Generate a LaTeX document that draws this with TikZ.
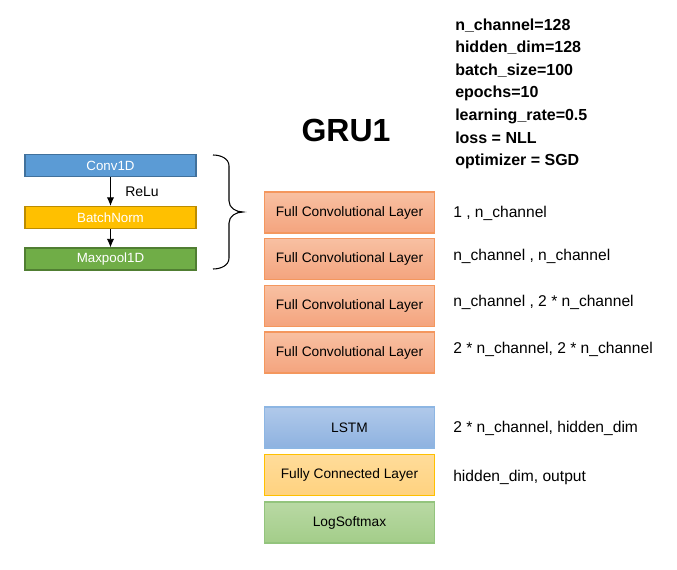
\documentclass[tikz,border=0pt]{standalone}
\usepackage{fontspec}
\setmainfont{Liberation Sans}
\usetikzlibrary{arrows.meta}
\definecolor{cblue}{HTML}{5B9BD5}
\definecolor{cblueb}{HTML}{41719C}
\definecolor{cyel}{HTML}{FFC000}
\definecolor{cyelb}{HTML}{BC8C00}
\definecolor{cgrn}{HTML}{70AD47}
\definecolor{cgrnb}{HTML}{507E32}
\definecolor{ortop}{HTML}{F8C0A2}
\definecolor{orbot}{HTML}{F4A47E}
\definecolor{orb}{HTML}{F4975E}
\definecolor{bltop}{HTML}{B0C9EA}
\definecolor{blbot}{HTML}{8EB2E0}
\definecolor{blb}{HTML}{8DB6E3}
\definecolor{yltop}{HTML}{FFDC9A}
\definecolor{ylbot}{HTML}{FFD27F}
\definecolor{ylb}{HTML}{FFC000}
\definecolor{grtop}{HTML}{B9D9A4}
\definecolor{grbot}{HTML}{A3CD89}
\definecolor{grb}{HTML}{93C47D}
\tikzset{
  smallbox/.style={draw, line width=0.8pt, minimum width=171*0.75pt, minimum height=22*0.75pt,
    inner sep=0pt, text=white, font=\fontsize{10}{12}\selectfont},
  bigbox/.style={draw, line width=0.8pt, minimum width=170*0.75pt, minimum height=41*0.75pt,
    inner sep=0pt, font=\fontsize{10.3}{12}\selectfont},
  convbox/.style={bigbox, top color=ortop, bottom color=orbot, draw=orb},
  lstmbox/.style={bigbox, top color=bltop, bottom color=blbot, draw=blb},
  fcbox/.style={bigbox, top color=yltop, bottom color=ylbot, draw=ylb},
  lsbox/.style={bigbox, top color=grtop, bottom color=grbot, draw=grb},
  dimlabel/.style={anchor=west, inner sep=0pt, font=\fontsize{11.7}{14}\selectfont},
  arr/.style={-{Latex[length=6.5pt,width=5.5pt]}, line width=0.7pt},
}
\begin{document}
\begin{tikzpicture}[x=0.75pt,y=-0.75pt]
\useasboundingbox (0,0) rectangle (677,570);
% left block
\node[smallbox, fill=cblue, draw=cblueb] (conv) at (110.5,165.5) {Conv1D};
\node[smallbox, fill=cyel, draw=cyelb] (bn) at (110.5,217.5) {BatchNorm};
\node[smallbox, fill=cgrn, draw=cgrnb] (mp) at (110.5,259) {Maxpool1D};
\draw[arr] (conv) -- (bn);
\draw[arr] (bn) -- (mp);
\node[anchor=west, inner sep=0pt, font=\fontsize{10.5}{12}\selectfont] (relu) at (125,192) {ReLu};
% brace
\coordinate (bt) at (213,155);
\coordinate (bb) at (213,269);
\coordinate (btip) at (243,212);
\draw[line width=0.8pt] (bt) to[out=0,in=90] (229,166) -- (229,201) to[out=-90,in=180] (btip)
  to[out=180,in=90] (229,223) -- (229,258) to[out=-90,in=0] (bb);
% title
\node[font=\bfseries\fontsize{24}{28}\selectfont] (title) at (346,130) {GRU1};
% parameters
\node[anchor=north west, inner sep=0pt, align=left, font=\bfseries\fontsize{12}{16.9}\selectfont] (params) at (455,18.5)
  {n\_channel=128\\hidden\_dim=128\\batch\_size=100\\epochs=10\\learning\_rate=0.5\\loss = NLL\\optimizer = SGD};
% main stack
\node[convbox] (fc1) at (349.5,212.5) {Full Convolutional Layer};
\node[convbox] (fc2) at (349.5,259) {Full Convolutional Layer};
\node[convbox] (fc3) at (349.5,306) {Full Convolutional Layer};
\node[convbox] (fc4) at (349.5,352.5) {Full Convolutional Layer};
\node[lstmbox] (lstm) at (349.5,427.5) {LSTM};
\node[fcbox] (fcl) at (349.5,475) {Fully Connected Layer};
\node[lsbox] (lsm) at (349.5,522.5) {LogSoftmax};
% dims
\node[dimlabel] (d1) at (453,213) {1 , n\_channel};
\node[dimlabel] (d2) at (453,256) {n\_channel , n\_channel};
\node[dimlabel] (d3) at (453,302) {n\_channel , 2 * n\_channel};
\node[dimlabel] (d4) at (453,349) {2 * n\_channel, 2 * n\_channel};
\node[dimlabel] (d5) at (453,428) {2 * n\_channel, hidden\_dim};
\node[dimlabel] (d6) at (453,477) {hidden\_dim, output};
\end{tikzpicture}
\end{document}
